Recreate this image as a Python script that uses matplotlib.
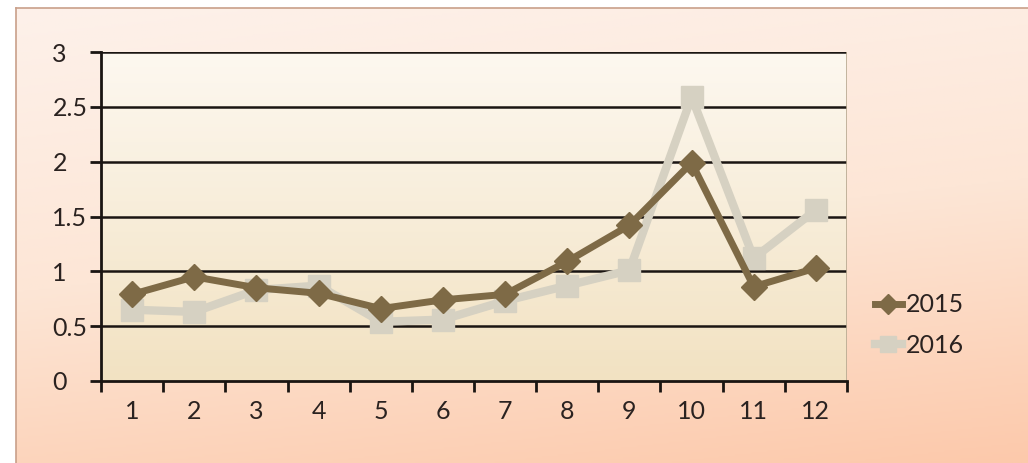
import numpy as np
import matplotlib.pyplot as plt
from matplotlib.colors import LinearSegmentedColormap

months = list(range(1, 13))
labels = [str(m) for m in months]
s2015 = [0.79, 0.95, 0.85, 0.80, 0.66, 0.74, 0.79, 1.09, 1.42, 1.99, 0.86, 1.03]
s2016 = [0.65, 0.63, 0.83, 0.87, 0.54, 0.56, 0.73, 0.87, 1.01, 2.59, 1.12, 1.56]

plt.rcParams['font.family'] = ['Lato', 'DejaVu Sans']

W, H = 1028, 463
fig = plt.figure(figsize=(W / 100, H / 100), dpi=100)
fig.patch.set_facecolor('white')

# внешний фон с градиентом
bg = fig.add_axes([16 / W, 0, 1 - 16 / W, 1 - 8 / H])
cm_out = LinearSegmentedColormap.from_list('out', ['#fdf1ea', '#fde6d6', '#fcc9ab'])
grad = np.linspace(0, 1, 256).reshape(-1, 1)
xg = np.linspace(0, 1, 256).reshape(1, -1)
bg.imshow(grad * 0.8 + xg * 0.2, cmap=cm_out, aspect='auto', extent=[0, 1, 1, 0])
bg.set_xlim(0, 1)
bg.set_ylim(1, 0)
bg.set_xticks([])
bg.set_yticks([])
for sp in bg.spines.values():
    sp.set_color('#c9a08a')
    sp.set_linewidth(1.2)
bg.spines['right'].set_visible(False)
bg.spines['bottom'].set_visible(False)

# область графика
left, right, top, bottom = 101, 847, 52, 381
ax = fig.add_axes([left / W, 1 - bottom / H, (right - left) / W, (bottom - top) / H])
cm_in = LinearSegmentedColormap.from_list('in', ['#fdf8f0', '#f2e2c2'])
ax.imshow(np.linspace(0, 1, 256).reshape(-1, 1), cmap=cm_in, aspect='auto',
          origin='upper', extent=[0.5, 12.5, 0, 3], zorder=0)
ax.set_xlim(0.5, 12.5)
ax.set_ylim(0, 3)

for y in [0.5, 1, 1.5, 2, 2.5, 3]:
    ax.axhline(y, color='#1a1512', lw=1.8, zorder=1)

ax.plot(months, s2016, color='#d6d1c2', lw=6, marker='s', ms=16,
        label='2016', zorder=3)
ax.plot(months, s2015, color='#7e6a46', lw=5, marker='D', ms=13,
        label='2015', zorder=4)

ax.set_yticks([0, 0.5, 1, 1.5, 2, 2.5, 3])
ax.set_yticklabels(['0', '0.5', '1', '1.5', '2', '2.5', '3'], ha='left')
ax.set_xticks(months)
ax.set_xticklabels(labels)
ax.set_xticks(np.arange(0.5, 13, 1), minor=True)
ax.tick_params(axis='x', which='major', length=0, pad=14, labelsize=18, colors='#2a2220')
ax.tick_params(axis='x', which='minor', length=8, width=2, color='#1a1512', direction='out')
ax.tick_params(axis='y', length=8, width=2, color='#1a1512', pad=27, labelsize=18, labelcolor='#2a2220')

for sp in ['top', 'right']:
    ax.spines[sp].set_visible(False)
ax.spines['left'].set_linewidth(2)
ax.spines['bottom'].set_linewidth(2)
ax.spines['left'].set_color('#1a1512')
ax.spines['bottom'].set_color('#1a1512')
ax.axvline(12.5, color='#b8a890', lw=1.2, zorder=1)

h, l = ax.get_legend_handles_labels()
leg = fig.legend(h[::-1], l[::-1], loc='center left', bbox_to_anchor=(852 / W, 1 - 325 / H),
                 frameon=False, fontsize=18, handlelength=1.1, handletextpad=0.15,
                 labelspacing=0.7, markerscale=0.75)
for t in leg.get_texts():
    t.set_color('#2a2220')

fig.savefig('out.png', dpi=100)
